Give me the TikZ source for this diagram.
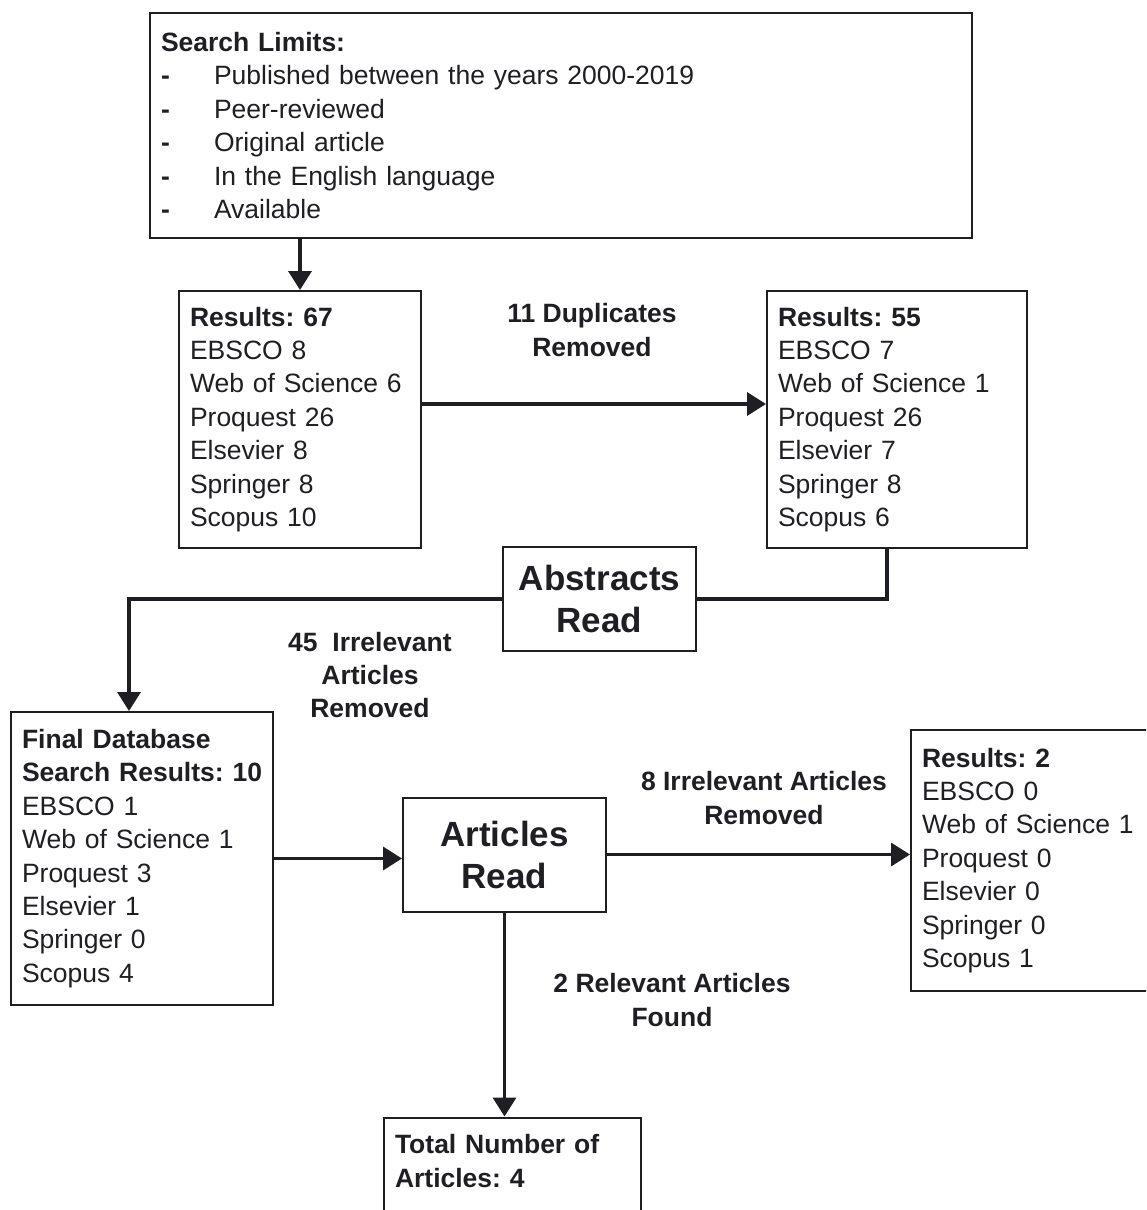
\documentclass[tikz,border=0pt]{standalone}
\usepackage{fontspec}
\setmainfont{Liberation Sans}
\usepackage{xcolor}
\usepackage{tikz}
\usetikzlibrary{arrows.meta, positioning}
\frenchspacing
\definecolor{ink}{HTML}{1F1E22}
\newcommand{\limitdash}{\makebox[53pt][l]{\textbf{-}}}
\tikzset{
  box/.style={draw=ink, line width=2pt, align=left, inner xsep=11pt, inner ysep=0pt, text=ink},
  bigbox/.style={draw=ink, line width=2pt, align=center, inner sep=0pt, text=ink, font=\fontsize{35}{42}\selectfont\bfseries},
  lab/.style={align=center, text=ink, font=\fontsize{26.5}{33.4}\selectfont\bfseries},
  arrow/.style={-{Triangle[length=19pt, width=23pt]}, line width=3.5pt, draw=ink},
  link/.style={line width=3.5pt, draw=ink},
  every node/.style={font=\fontsize{26.5}{33.4}\selectfont}
}

\begin{document}
\begin{tikzpicture}[x=1pt, y=1pt]
    \useasboundingbox (0,0) rectangle (1146,-1210);
    \clip (0,0) rectangle (1146,-1210);

    \node[box, anchor=north west, text width=800pt, minimum height=225pt] (limits) at (149,-12)
      {\textbf{Search Limits:}\\
       \limitdash Published between the years 2000-2019\\
       \limitdash Peer-reviewed\\
       \limitdash Original article\\
       \limitdash In the English language\\
       \limitdash Available};
    \node[box, text width=220pt, minimum height=257pt, below right=51pt and 29pt of limits.south west] (res67)
      {\textbf{Results: 67}\\EBSCO 8\\Web of Science 6\\Proquest 26\\Elsevier 8\\Springer 8\\Scopus 10};
    \node[box, text width=238pt, minimum height=257pt, right=344pt of res67] (res55)
      {\textbf{Results: 55}\\EBSCO 7\\Web of Science 1\\Proquest 26\\Elsevier 7\\Springer 8\\Scopus 6};
    \node[bigbox, minimum width=193pt, minimum height=104pt, below left=-3pt and 69pt of res55.south west] (abs)
      {Abstracts\\Read};
    \node[box, text width=240pt, minimum height=293pt, below left=59pt and 228pt of abs.south west] (final)
      {\textbf{Final Database}\\\mbox{\textbf{Search Results: 10}}\\EBSCO 1\\Web of Science 1\\Proquest 3\\Elsevier 1\\Springer 0\\Scopus 4};
    \node[bigbox, minimum width=203pt, minimum height=114pt, right=128pt of final, yshift=4pt] (arts)
      {Articles\\Read};
    \node[box, text width=238pt, minimum height=261pt, right=303pt of arts, yshift=-6pt] (res2)
      {\textbf{Results: 2}\\EBSCO 0\\Web of Science 1\\Proquest 0\\Elsevier 0\\Springer 0\\Scopus 1};
    \node[box, text width=235pt, inner ysep=17pt, text depth=100pt, below=204pt of arts, xshift=8pt] (total)
      {\textbf{Total Number of}\\\textbf{Articles: 4}};

    \node[lab] (dup) at (592,-330) {11 Duplicates\\Removed};
    \node[lab] (irr45) at (370,-675) {45\ \ Irrelevant\\Articles\\Removed};
    \node[lab] (irr8) at (764,-798) {8 Irrelevant Articles\\Removed};
    \node[lab] (rel2) at (672,-1000) {2 Relevant Articles\\Found};

    \draw[arrow] (res67.north |- limits.south) -- (res67.north);
    \draw[arrow] ([yshift=15.5pt]res67.east) -- ([yshift=15.5pt]res55.west);
    \draw[link] ([xshift=-10pt]res55.south) |- (abs.east);
    \draw[arrow] (abs.west) -| ([xshift=-13pt]final.north);
    \draw[arrow] (final.east) -- (final.east -| arts.west);
    \draw[arrow] (arts.east) -- (arts.east -| res2.west);
    \draw[arrow] (arts.south) -- (arts.south |- total.north);
\end{tikzpicture}
\end{document}
